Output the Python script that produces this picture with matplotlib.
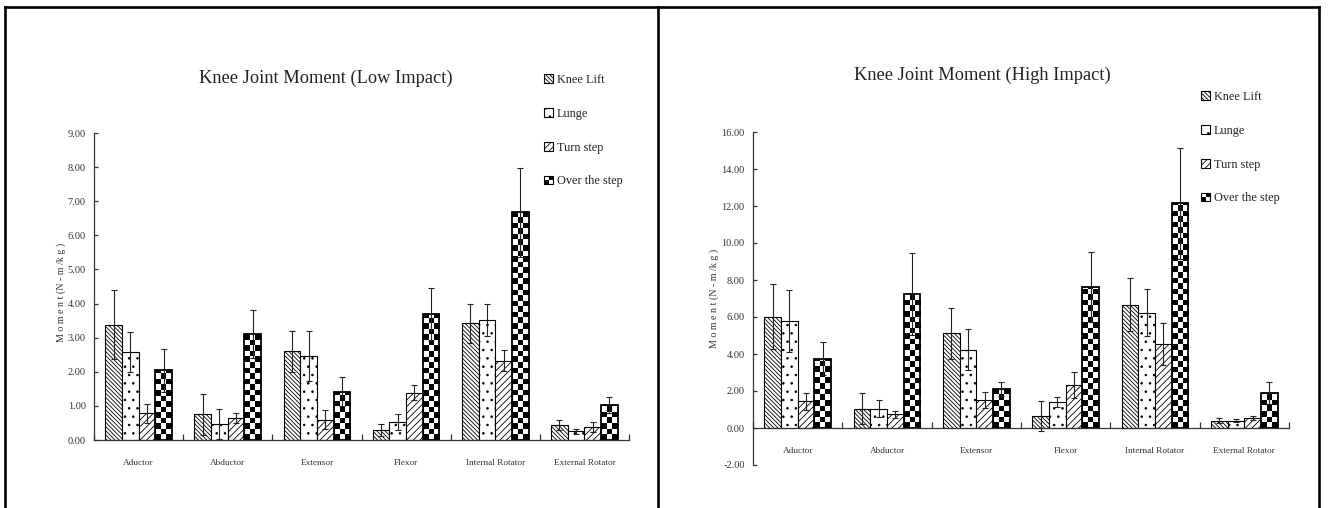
import numpy as np
import matplotlib
matplotlib.use('Agg')
import matplotlib.pyplot as plt
from matplotlib.patches import Rectangle
from matplotlib.lines import Line2D
from matplotlib.legend_handler import HandlerBase

categories = ['Aductor', 'Abductor', 'Extensor', 'Flexor', 'Internal Rotator', 'External Rotator']
series = ['Knee Lift', 'Lunge', 'Turn step', 'Over the step']

# low impact, mean and SD (N-m/kg)
low_knee_lift = [3.38, 0.75, 2.60, 0.29, 3.42, 0.43]
low_lunge = [2.58, 0.47, 2.47, 0.52, 3.52, 0.26]
low_turn_step = [0.78, 0.65, 0.60, 1.39, 2.33, 0.37]
low_over_step = [2.05, 3.10, 1.42, 3.69, 6.67, 1.03]
low_knee_lift_sd = [1.02, 0.60, 0.60, 0.18, 0.58, 0.15]
low_lunge_sd = [0.60, 0.43, 0.73, 0.23, 0.48, 0.07]
low_turn_step_sd = [0.29, 0.15, 0.27, 0.21, 0.32, 0.15]
low_over_step_sd = [0.63, 0.70, 0.43, 0.78, 1.30, 0.24]

# high impact
high_knee_lift = [6.02, 1.05, 5.13, 0.65, 6.67, 0.40]
high_lunge = [5.78, 1.05, 4.22, 1.38, 6.24, 0.40]
high_turn_step = [1.45, 0.73, 1.51, 2.33, 4.53, 0.53]
high_over_step = [3.75, 7.24, 2.09, 7.62, 12.15, 1.91]
high_knee_lift_sd = [1.74, 0.86, 1.38, 0.80, 1.45, 0.15]
high_lunge_sd = [1.66, 0.46, 1.11, 0.27, 1.29, 0.07]
high_turn_step_sd = [0.46, 0.18, 0.45, 0.69, 1.14, 0.12]
high_over_step_sd = [0.90, 2.23, 0.38, 1.87, 3.01, 0.60]

W, H = 1329, 508
FONT = 'Liberation Serif'
TXT = '#222222'
plt.rcParams['font.family'] = [FONT, 'DejaVu Serif']
plt.rcParams['hatch.linewidth'] = 0.6

hatches = ['\\' * 8, '..', '/' * 5, None]


class CheckerHandler(HandlerBase):
    def create_artists(self, legend, orig_handle, xdescent, ydescent, width, height, fontsize, trans):
        arts = []
        for i in range(2):
            for j in range(2):
                fc = 'black' if (i + j) % 2 == 0 else 'white'
                arts.append(Rectangle((-xdescent + i*width/2, -ydescent + j*height/2), width/2, height/2,
                                      facecolor=fc, edgecolor='none', transform=trans))
        arts.append(Rectangle((-xdescent, -ydescent), width, height, facecolor='none',
                              edgecolor='black', lw=0.8, transform=trans))
        return arts


def checker_fill(ax, rect, ncols=3):
    # fill one bar with a black/white checkerboard, clipped to the bar
    x, w, h = rect.get_x(), rect.get_width(), rect.get_height()
    p0 = ax.transData.transform((0, 0))
    p1 = ax.transData.transform((w, 1))
    cell_px = (p1[0] - p0[0]) / ncols
    cell_h = cell_px / (p1[1] - p0[1])
    nrows = int(np.ceil(h / cell_h)) + 1
    img = (np.indices((nrows, ncols)).sum(axis=0) % 2).astype(float)
    im = ax.imshow(img, cmap='gray', extent=[x, x + w, 0, nrows*cell_h], origin='lower',
                   interpolation='nearest', aspect='auto', zorder=1)
    im.set_clip_path(rect)


def draw_panel(rect, ylim, ystep, values, errors, title, title_xy, legend_xy, ylabel_xy, label_pad):
    ax = plt.gcf().add_axes(rect)
    ax.set_xlim(0, 6)
    ax.set_ylim(*ylim)
    x = np.arange(6) + 0.5
    bw = 0.187
    for k in range(4):
        pos = x + (k - 1.5)*bw
        if k == 3:
            bars = ax.bar(pos, values[k], bw, facecolor='white', edgecolor='black', lw=1.3,
                          label=series[k], zorder=2)
            for b in bars:
                b.set_facecolor('none')
        else:
            bars = ax.bar(pos, values[k], bw, facecolor='white', edgecolor='black', lw=0.8,
                          hatch=hatches[k], label=series[k], zorder=2)
        ax.errorbar(pos, values[k], yerr=errors[k], fmt='none', ecolor='#222222',
                    elinewidth=0.8, capsize=2.5, capthick=0.8, zorder=3)
        if k == 3:
            for b in bars:
                white = Rectangle(b.get_xy(), b.get_width(), b.get_height(), facecolor='white',
                                  edgecolor='none', zorder=0.5)
                ax.add_patch(white)
                checker_fill(ax, b)
    ax.set_xlim(0, 6)
    ax.set_ylim(*ylim)

    for s in ['top', 'right']:
        ax.spines[s].set_visible(False)
    ax.spines['bottom'].set_position(('data', 0))
    for s in ['left', 'bottom']:
        ax.spines[s].set_color('#333333')
        ax.spines[s].set_linewidth(0.9)

    ticks = np.arange(ylim[0], ylim[1] + 0.01, ystep)
    ax.set_yticks(ticks)
    ax.set_yticklabels(['%.2f' % t for t in ticks])
    ax.tick_params(axis='y', direction='in', length=3, width=0.9, color='#333333',
                   labelsize=7.5, labelcolor='#333333', pad=6)
    ax.set_xticks(x)
    ax.set_xticklabels(categories)
    ax.tick_params(axis='x', which='major', length=0, labelsize=6.7, labelcolor='#333333', pad=label_pad)
    ax.set_xticks(np.arange(7), minor=True)
    ax.tick_params(axis='x', which='minor', direction='in', length=4, width=0.9, color='#333333')

    fig = plt.gcf()
    fig.text(title_xy[0]/W, 1 - title_xy[1]/H, title, ha='center', va='center',
             fontsize=13.2, color=TXT)
    fig.text(ylabel_xy[0]/W, 1 - ylabel_xy[1]/H, 'M o m e n t (N - m /k g )', rotation=90,
             ha='center', va='center', fontsize=7.2, color='#333333')

    handles, labels = ax.get_legend_handles_labels()
    handles = [h[0] if hasattr(h, '__getitem__') else h for h in handles]
    leg = fig.legend(handles, labels, loc='upper left', bbox_to_anchor=(legend_xy[0]/W, 1 - legend_xy[1]/H),
                     frameon=False, fontsize=8.8, handlelength=0.75, handleheight=0.75,
                     handletextpad=0.3, labelspacing=1.78, borderpad=0, borderaxespad=0,
                     handler_map={handles[3]: CheckerHandler()})
    for t in leg.get_texts():
        t.set_color(TXT)
    return ax


fig = plt.figure(figsize=(W/100, H/100), dpi=100)

draw_panel([94/W, (H - 440)/H, 535/W, 307/H], (0, 9), 1,
           [low_knee_lift, low_lunge, low_turn_step, low_over_step],
           [low_knee_lift_sd, low_lunge_sd, low_turn_step_sd, low_over_step_sd],
           'Knee Joint Moment (Low Impact)', (326, 78), (544, 74), (61, 292), 14)

draw_panel([753/W, (H - 465)/H, 536/W, 333/H], (-2, 16), 2,
           [high_knee_lift, high_lunge, high_turn_step, high_over_step],
           [high_knee_lift_sd, high_lunge_sd, high_turn_step_sd, high_over_step_sd],
           'Knee Joint Moment (High Impact)', (982, 75), (1201, 91), (714, 298), 14)

# panel frames
for xs, ys in [([4.5, 1319], [6.5, 6.5]), ([4.5, 4.5], [6.5, H]),
               ([658, 658], [6.5, H]), ([1319, 1319], [6.5, H])]:
    fig.add_artist(Line2D([v/W for v in xs], [1 - v/H for v in ys], color='black', lw=1.9))

plt.savefig('out.png', dpi=100)
